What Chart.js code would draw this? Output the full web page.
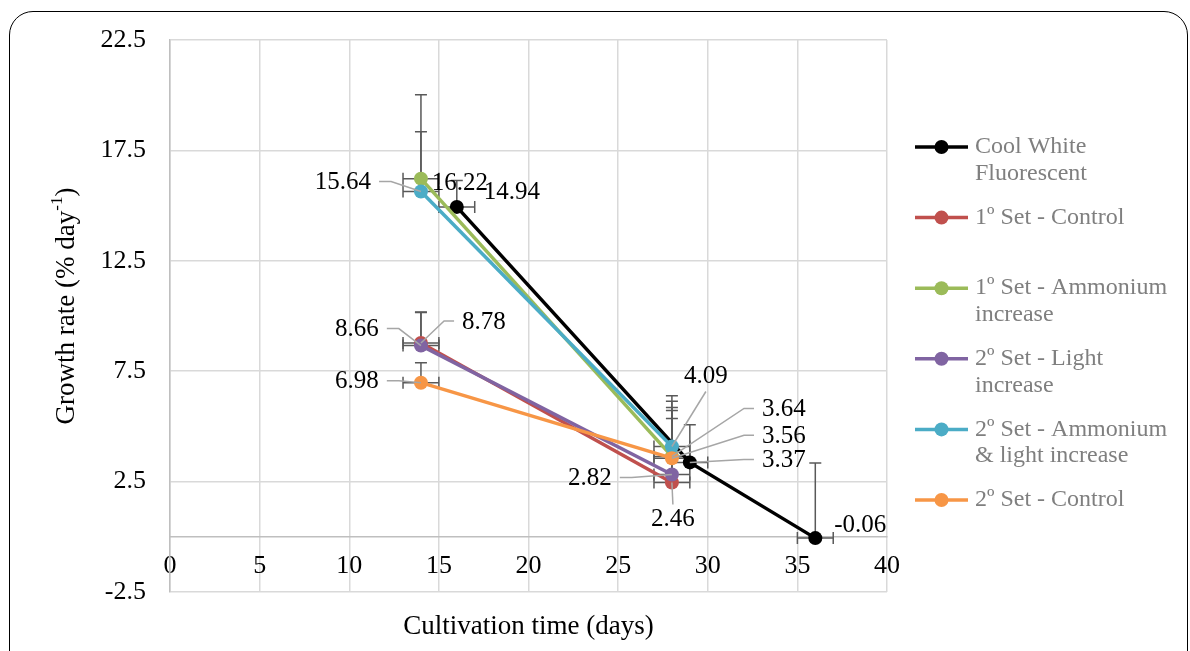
<!DOCTYPE html>
<html>
<head>
<meta charset="utf-8">
<title>Growth rate</title>
<script src="https://cdn.jsdelivr.net/npm/chart.js@4.4.1/dist/chart.umd.min.js"></script>
<style>
html, body { margin: 0; padding: 0; background: #fff; }
#wrap { position: relative; width: 1190px; height: 651px; overflow: hidden; }
#frame { position: absolute; left: 9px; top: 11px; width: 1179px; height: 670px; border: 1.5px solid #000; border-radius: 24px; box-sizing: border-box; }
canvas { position: absolute; left: 0; top: 0; }
</style>
</head>
<body>
<div id="wrap">
  <div id="frame"></div>
  <canvas id="growthChart" width="1190" height="651"></canvas>
</div>
<script>
// Data
const coolWhiteDays = [16, 29, 36];
const coolWhiteRate = [14.94, 3.37, -0.06];
const coolWhiteErr  = [1.2, 1.7, 3.4];

const set1ControlDays = [14, 28];
const set1ControlRate = [8.78, 2.46];
const set1ControlErr  = [1.4, 2.9];

const set1AmmoniumDays = [14, 28];
const set1AmmoniumRate = [16.22, 3.64];
const set1AmmoniumErr  = [3.8, 2.5];

const set2LightDays = [14, 28];
const set2LightRate = [8.66, 2.82];
const set2LightErr  = [1.5, 2.9];

const set2AmmLightDays = [14, 28];
const set2AmmLightRate = [15.64, 4.09];
const set2AmmLightErr  = [2.7, 2.3];

const set2ControlDays = [14, 28];
const set2ControlRate = [6.98, 3.56];
const set2ControlErr  = [0.9, 2.3];

const dayErr = 1; // horizontal error bars (days)

const seriesNames = [
    'Cool White Fluorescent',
    '1º Set - Control',
    '1º Set - Ammonium increase',
    '2º Set - Light increase',
    '2º Set - Ammonium & light increase',
    '2º Set - Control'
];
const seriesColors = ['#000000', '#C0504D', '#9BBB59', '#8064A2', '#4BACC6', '#F79646'];

const xTicks = { min: 0, max: 40, step: 5 };
const yTicks = { min: -2.5, max: 22.5, step: 5 };

// Label placement (pixel offsets from the point, and where the leader line leaves)
const labelPlacement = [
    [{ dx: 55, dy: -14 }, { dx: 94, dy: -2, side: 'left' }, { dx: 45, dy: -13 }],
    [{ dx: 63, dy: -21, side: 'left' }, { dx: 1, dy: 37, side: 'top' }],
    [{ dx: 39, dy: 5 }, { dx: 112, dy: -47, side: 'left' }],
    [{ dx: -64, dy: -16, side: 'right' }, { dx: -82, dy: 4, side: 'right' }],
    [{ dx: -78, dy: -9, side: 'right' }, { dx: 34, dy: -70, side: 'bottom' }],
    [{ dx: -64, dy: -1, side: 'right' }, { dx: 112, dy: -22, side: 'left' }]
];

const serif = "'Liberation Serif', 'Times New Roman', serif";

function toPoints(days, rates) {
    return days.map((d, i) => ({ x: d, y: rates[i] }));
}

const seriesDays = [coolWhiteDays, set1ControlDays, set1AmmoniumDays, set2LightDays, set2AmmLightDays, set2ControlDays];
const seriesRates = [coolWhiteRate, set1ControlRate, set1AmmoniumRate, set2LightRate, set2AmmLightRate, set2ControlRate];
const seriesErrs = [coolWhiteErr, set1ControlErr, set1AmmoniumErr, set2LightErr, set2AmmLightErr, set2ControlErr];

const datasets = seriesNames.map((name, i) => ({
    label: name,
    data: toPoints(seriesDays[i], seriesRates[i]),
    errUp: seriesErrs[i],
    showLine: true,
    borderColor: seriesColors[i],
    backgroundColor: seriesColors[i],
    borderWidth: 3.5,
    pointRadius: 7,
    pointBorderWidth: 0,
    pointHoverRadius: 7,
    order: seriesNames.length - i
}));

// Error bars (plus only vertically, both ways horizontally)
const errorBarPlugin = {
    id: 'errorBars',
    beforeDatasetsDraw(chart) {
        const { ctx, scales: { x, y } } = chart;
        ctx.save();
        ctx.strokeStyle = '#595959';
        ctx.lineWidth = 1.5;
        chart.data.datasets.forEach(ds => {
            ds.data.forEach((p, i) => {
                const cx = x.getPixelForValue(p.x);
                const cy = y.getPixelForValue(p.y);
                const top = y.getPixelForValue(p.y + ds.errUp[i]);
                const l = x.getPixelForValue(p.x - dayErr);
                const r = x.getPixelForValue(p.x + dayErr);
                ctx.beginPath();
                ctx.moveTo(cx, cy); ctx.lineTo(cx, top);
                ctx.moveTo(cx - 6, top); ctx.lineTo(cx + 6, top);
                ctx.moveTo(l, cy); ctx.lineTo(r, cy);
                ctx.moveTo(l, cy - 6); ctx.lineTo(l, cy + 6);
                ctx.moveTo(r, cy - 6); ctx.lineTo(r, cy + 6);
                ctx.stroke();
            });
        });
        ctx.restore();
    }
};

// Data labels with leader lines
const valueLabelPlugin = {
    id: 'valueLabels',
    afterDatasetsDraw(chart) {
        const { ctx, scales: { x, y } } = chart;
        ctx.save();
        ctx.font = '25px ' + serif;
        ctx.textAlign = 'center';
        ctx.textBaseline = 'middle';
        chart.data.datasets.forEach((ds, di) => {
            ds.data.forEach((p, i) => {
                const place = labelPlacement[di][i];
                const px = x.getPixelForValue(p.x);
                const py = y.getPixelForValue(p.y);
                const lx = px + place.dx;
                const ly = py + place.dy;
                const text = p.y.toFixed(2);
                const w = ctx.measureText(text).width;
                if (place.side) {
                    ctx.strokeStyle = '#a6a6a6';
                    ctx.lineWidth = 1.5;
                    ctx.beginPath();
                    if (place.side === 'right') {
                        const sx = lx + w / 2 + 8;
                        ctx.moveTo(sx, ly - 1);
                        ctx.lineTo(sx + 12, ly - 1);
                    } else if (place.side === 'left') {
                        const sx = lx - w / 2 - 8;
                        ctx.moveTo(sx, ly - 1);
                        ctx.lineTo(sx - 10, ly - 1);
                    } else if (place.side === 'top') {
                        ctx.moveTo(lx, ly - 15);
                    } else {
                        ctx.moveTo(lx, ly + 15);
                    }
                    ctx.lineTo(px, py);
                    ctx.stroke();
                }
                ctx.fillStyle = '#000';
                ctx.fillText(text, lx, ly);
            });
        });
        ctx.restore();
    }
};

// Axis titles and legend drawn on the canvas
const decorPlugin = {
    id: 'decor',
    afterDraw(chart) {
        const { ctx, chartArea } = chart;
        ctx.save();
        ctx.fillStyle = '#000';
        ctx.textBaseline = 'middle';

        // x title
        ctx.font = '27px ' + serif;
        ctx.textAlign = 'center';
        ctx.fillText('Cultivation time (days)', (chartArea.left + chartArea.right) / 2, 627);

        // y title with superscript
        ctx.translate(67, (chartArea.top + chartArea.bottom) / 2 - 10);
        ctx.rotate(-Math.PI / 2);
        const main = 'Growth rate (% day';
        const sup = '-1';
        const tail = ')';
        ctx.font = '27px ' + serif;
        const w1 = ctx.measureText(main).width;
        const w3 = ctx.measureText(tail).width;
        ctx.font = '17px ' + serif;
        const w2 = ctx.measureText(sup).width;
        let sx = -(w1 + w2 + w3) / 2;
        ctx.textAlign = 'left';
        ctx.font = '27px ' + serif;
        ctx.fillText(main, sx, 0);
        ctx.font = '17px ' + serif;
        ctx.fillText(sup, sx + w1, -9);
        ctx.font = '27px ' + serif;
        ctx.fillText(tail, sx + w1 + w2, 0);
        ctx.setTransform(1, 0, 0, 1, 0, 0);

        // legend
        ctx.font = '24px ' + serif;
        ctx.textAlign = 'left';
        const legendX = 915;
        const maxW = 205;
        chart.data.datasets.forEach((ds, i) => {
            const ly = 147 + i * 70.6;
            ctx.strokeStyle = ds.borderColor;
            ctx.lineWidth = 3.5;
            ctx.beginPath();
            ctx.moveTo(legendX, ly);
            ctx.lineTo(legendX + 53, ly);
            ctx.stroke();
            ctx.fillStyle = ds.borderColor;
            ctx.beginPath();
            ctx.arc(legendX + 26.5, ly, 7, 0, Math.PI * 2);
            ctx.fill();

            // wrap label
            const words = ds.label.split(' ');
            const lines = [];
            let line = '';
            words.forEach(word => {
                const test = line ? line + ' ' + word : word;
                if (ctx.measureText(test).width > maxW && line) {
                    lines.push(line);
                    line = word;
                } else {
                    line = test;
                }
            });
            lines.push(line);
            ctx.fillStyle = '#7f7f7f';
            lines.forEach((t, k) => ctx.fillText(t, legendX + 60, ly + k * 26.5));
        });
        ctx.restore();
    }
};

const tickFont = { family: serif, size: 26 };

new Chart(document.getElementById('growthChart'), {
    type: 'scatter',
    data: { datasets: datasets },
    options: {
        responsive: false,
        animation: false,
        layout: { padding: { left: 10, right: 303, top: 40, bottom: 59 } },
        plugins: {
            legend: { display: false },
            tooltip: { enabled: false }
        },
        scales: {
            x: {
                type: 'linear',
                position: { y: 0 },
                min: xTicks.min,
                max: xTicks.max,
                ticks: { stepSize: xTicks.step, padding: 14, color: '#000', font: tickFont },
                grid: { color: '#d9d9d9', lineWidth: 1.5, drawTicks: false },
                border: { color: '#bfbfbf', width: 1.5 }
            },
            y: {
                type: 'linear',
                min: yTicks.min,
                max: yTicks.max,
                ticks: { stepSize: yTicks.step, padding: 24, color: '#000', font: tickFont },
                grid: { color: '#d9d9d9', lineWidth: 1.5, drawTicks: false },
                border: { color: '#bfbfbf', width: 1.5 },
                afterFit: scale => { scale.width = 160; }
            }
        }
    },
    plugins: [errorBarPlugin, valueLabelPlugin, decorPlugin]
});
</script>
</body>
</html>
